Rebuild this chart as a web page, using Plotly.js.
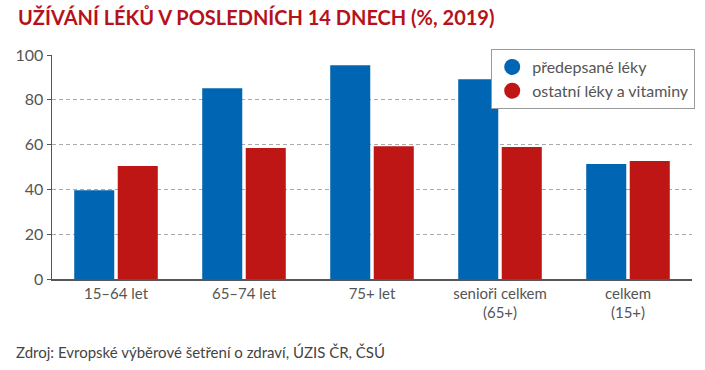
<!DOCTYPE html>
<html><head><meta charset="utf-8">
<script src="https://cdn.plot.ly/plotly-3.0.1.min.js"></script>
<style>html,body{margin:0;padding:0;background:#fff}</style>
</head><body>
<div id="chart" style="width:705px;height:370px"></div>
<script>
const categories = ["15–64 let", "65–74 let", "75+ let", "senioři celkem<br>(65+)", "celkem<br>(15+)"];
const prescribed = [39.6, 85.2, 95.4, 89.2, 51.3];
const otherMeds = [50.5, 58.5, 59.3, 58.9, 52.7];
const seriesNames = ["předepsané léky", "ostatní léky a vitaminy"];
const yTicks = [0, 20, 40, 60, 80, 100];

const BLUE = "#0066B3", RED = "#BE1515";
const FONT = "Lato, 'Open Sans', sans-serif";

const traces = [
  {type: "bar", x: categories, y: prescribed, name: seriesNames[0], marker: {color: BLUE}, showlegend: false, hoverinfo: "y"},
  {type: "bar", x: categories, y: otherMeds, name: seriesNames[1], marker: {color: RED}, showlegend: false, hoverinfo: "y"},
  {type: "scatter", mode: "markers", x: [null], y: [null], name: seriesNames[0], marker: {color: BLUE, size: 16, symbol: "circle"}},
  {type: "scatter", mode: "markers", x: [null], y: [null], name: seriesNames[1], marker: {color: RED, size: 16, symbol: "circle"}}
];

const layout = {
  width: 705, height: 370,
  margin: {l: 52, r: 13, t: 55, b: 91, autoexpand: false},
  paper_bgcolor: "#fff", plot_bgcolor: "#fff",
  font: {family: FONT, color: "#555", size: 15},
  title: {text: "<b>UŽÍVÁNÍ LÉKŮ V POSLEDNÍCH 14 DNECH (%, 2019)</b>", xref: "container", yref: "container",
          x: 18/705, xanchor: "left", y: 1 - 18/370, yanchor: "middle",
          font: {family: FONT, size: 20, color: "#B5121B"}},
  barmode: "group", bargap: 0.32, bargroupgap: 0.08,
  xaxis: {type: "category", range: [-0.5, 4.5], showline: true, linecolor: "#555", linewidth: 1.5,
          ticks: "", tickfont: {size: 15, color: "#555"}, fixedrange: true, showgrid: false, zeroline: false},
  yaxis: {range: [0, 100], tickvals: yTicks, showline: true, linecolor: "#555", linewidth: 1.5,
          ticks: "outside", ticklen: 4, tickcolor: "#555",
          showgrid: true, gridcolor: "#aaa", griddash: "4px,3px", gridwidth: 1, zeroline: false,
          tickfont: {size: 16, color: "#555"}, fixedrange: true},
  legend: {x: 1.005, xanchor: "right", y: 1 + 6/224.6, yanchor: "top",
           bgcolor: "#fff", bordercolor: "#999", borderwidth: 1,
           font: {size: 16, color: "#555"}, itemsizing: "trace", tracegroupgap: 0},
  annotations: [
    {text: "Zdroj: Evropské výběrové šetření o zdraví, ÚZIS ČR, ČSÚ", xref: "paper", yref: "paper",
     x: -38/640, xanchor: "left", y: (279.3-352)/224.6, yanchor: "middle", showarrow: false,
     font: {family: FONT, size: 15, color: "#444"}}
  ]
};

Plotly.newPlot("chart", traces, layout, {displayModeBar: false, staticPlot: true});
</script>
</body></html>
